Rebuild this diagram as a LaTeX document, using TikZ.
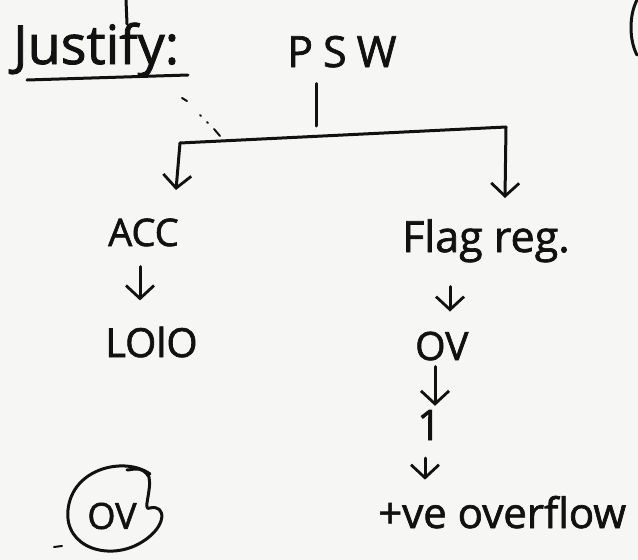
\documentclass[tikz,border=0pt]{standalone}
\usepackage{fontspec}
\setmainfont{Open Sans}[FakeBold=1.6]
\usetikzlibrary{arrows.meta,calc}
\definecolor{paper}{HTML}{F6F6F4}
\definecolor{ink}{HTML}{111111}
\tikzset{
  lbl/.style={inner sep=0pt, anchor=base west, text=ink},
  stroke/.style={draw=ink, line width=3pt, line cap=round, line join=round},
  arr/.style={stroke, -{Straight Barb[length=13pt,width=28pt,line width=2.8pt]}},
  speck/.style={draw=ink, line width=2pt, line cap=round}
}
\begin{document}
\begin{tikzpicture}[x=1pt,y=-1pt]
  \fill[paper] (0,0) rectangle (638,560);
  \useasboundingbox (0,0) rectangle (638,560);

  % heading
  \node[lbl, font=\fontsize{54}{60}\selectfont] (justify) at (13,64) {Justify:};
  \draw[stroke] (27,80) -- (188,75);
  \draw[stroke] (126,0) -- (127,24);

  % root
  \node[lbl, font=\fontsize{43}{44}\selectfont] (psw) at (287,67) {P\kern10pt S\kern10pt W};

  % branches
  \node[lbl, font=\fontsize{38}{40}\selectfont] (acc) at (108,246) {ACC};
  \node[lbl, font=\fontsize{40}{44}\selectfont] (lolo) at (105,357) {LOlO};
  \node[lbl, font=\fontsize{43}{48}\selectfont] (flag) at (402,252) {Flag reg.};
  \node[lbl, font=\fontsize{39}{42}\selectfont] (ov) at (415,360) {OV};
  \node[lbl, font=\fontsize{42}{44}\selectfont] (one) at (417,440) {1};
  \node[lbl, font=\fontsize{42}{46}\selectfont] (pos) at (378,528) {+ve overflow};
  \node[inner sep=0pt, text=ink, font=\fontsize{36}{40}\selectfont] (ovc) at (112,516) {OV};

  % tree
  \coordinate (j) at (316,126);
  \coordinate (lc) at (180,143);
  \coordinate (rc) at (506,127);
  \coordinate (la) at (176,190);
  \coordinate (ra) at (505,198);
  \draw[stroke] (psw.south -| j) ++(0,16) -- (j);
  \draw[stroke] (lc) -- (rc);
  \draw[arr] (lc) -- (la);
  \draw[arr] (rc) -- (ra);

  % arrows down the columns
  \draw[arr, shorten <=20pt, shorten >=26pt] (acc.south -| 140,0) -- (lolo.north -| 140,0);
  \draw[arr, shorten <=24pt, shorten >=20pt] (flag.south -| 450,0) -- (ov.north -| 450,0);
  \draw[arr, shorten <=6pt, shorten >=4pt] (ov.south -| 435,0) -- (one.north -| 435,0);
  \draw[arr, shorten <=18pt, shorten >=16pt] (one.south -| 425,0) -- (pos.north -| 425,0);

  % ring around OV
  \draw[stroke] (150,474) .. controls (125,456) and (72,468) .. (68,510)
     .. controls (64,548) and (110,562) .. (142,542)
     .. controls (168,526) and (166,504) .. (150,508)
     .. controls (142,512) and (152,490) .. (149,477)
     .. controls (142,465) and (132,470) .. (127,470);
  \draw[speck] (54,547) -- (62,546);

  % stray pen marks
  \draw[speck] (182,98) -- (187,101);
  \draw[speck] (200,115) -- (201,116);
  \draw[speck] (207,122) -- (208,123);
  \draw[speck] (214,129) -- (220,136);
  \draw[stroke] (637,0) .. controls (629,15) and (629,40) .. (637,55);
\end{tikzpicture}
\end{document}
